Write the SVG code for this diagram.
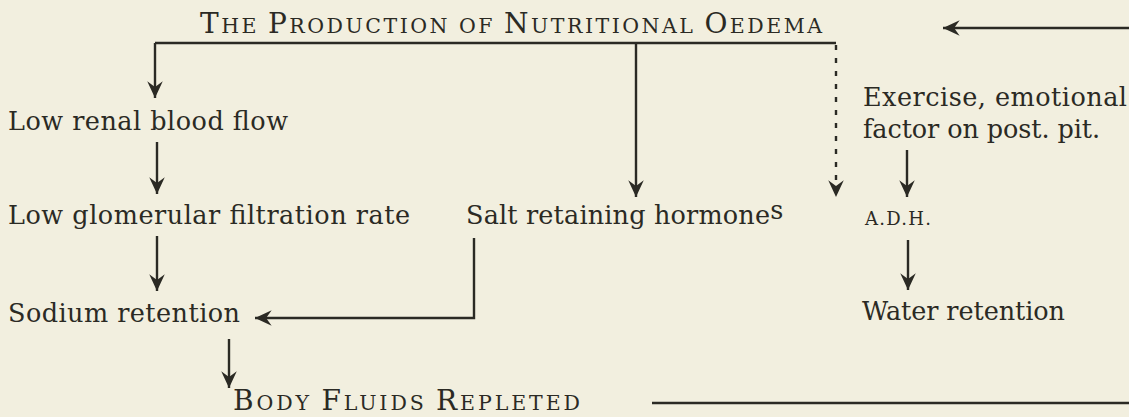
<svg xmlns="http://www.w3.org/2000/svg" width="1129" height="417" viewBox="0 0 1129 417">
<defs>
<style>
.t{font-family:"DejaVu Serif","Liberation Serif",serif;fill:#2b2a24;}
.n{font-size:25.5px;}
.c{stroke:#2b2a24;stroke-width:2.4;fill:none;}
.dash{stroke-dasharray:5 8;}
</style>
<marker id="ah" markerUnits="userSpaceOnUse" markerWidth="20" markerHeight="20" viewBox="-16 -8 18 16" refX="0" refY="0" orient="auto">
<path d="M0,0 L-15,-7 L-10,0 L-15,7 Z" fill="#2b2a24"/>
</marker>
</defs>
<rect width="1129" height="417" fill="#f2efdf"/>
<g id="connectors">
<path class="c" d="M155,43 H836"/>
<path class="c" d="M155,43 V98" marker-end="url(#ah)"/>
<path class="c" d="M636,43 V197" marker-end="url(#ah)"/>
<path class="c dash" d="M836,45 V197" marker-end="url(#ah)"/>
<path class="c" d="M1129,28 H943" marker-end="url(#ah)"/>
<path class="c" d="M157,142 V194" marker-end="url(#ah)"/>
<path class="c" d="M157,236 V291" marker-end="url(#ah)"/>
<path class="c" d="M474,238 V318 H255" marker-end="url(#ah)"/>
<path class="c" d="M907,150 V197" marker-end="url(#ah)"/>
<path class="c" d="M908,240 V290" marker-end="url(#ah)"/>
<path class="c" d="M229,339 V388" marker-end="url(#ah)"/>
<path class="c" d="M652,403 H1129"/>
</g>
<g id="title">
<text class="t" x="200" y="33" textLength="622" lengthAdjust="spacing"><tspan font-size="28">T</tspan><tspan font-size="20.5">HE </tspan><tspan font-size="28">P</tspan><tspan font-size="20.5">RODUCTION OF </tspan><tspan font-size="28">N</tspan><tspan font-size="20.5">UTRITIONAL </tspan><tspan font-size="28">O</tspan><tspan font-size="20.5">EDEMA</tspan></text>
</g>
<g id="low-renal"><text class="t n" x="8" y="130" textLength="280" lengthAdjust="spacing">Low renal blood flow</text></g>
<g id="low-gfr"><text class="t n" x="8" y="224" textLength="402" lengthAdjust="spacing">Low glomerular filtration rate</text></g>
<g id="salt"><text class="t n" x="466" y="224"><tspan textLength="304" lengthAdjust="spacing">Salt retaining hormone</tspan><tspan dy="-5">s</tspan></text></g>
<g id="sodium"><text class="t n" x="8" y="322" textLength="232" lengthAdjust="spacing">Sodium retention</text></g>
<g id="body-fluids"><text class="t" x="233" y="410" textLength="347" lengthAdjust="spacing"><tspan font-size="28">B</tspan><tspan font-size="20.5">ODY </tspan><tspan font-size="28">F</tspan><tspan font-size="20.5">LUIDS </tspan><tspan font-size="28">R</tspan><tspan font-size="20.5">EPLETED</tspan></text></g>
<g id="exercise"><text class="t n" x="863" y="106" textLength="264" lengthAdjust="spacing">Exercise, emotional</text><text class="t n" x="863" y="138" textLength="237" lengthAdjust="spacing">factor on post. pit.</text></g>
<g id="adh"><text class="t" x="865" y="225" font-size="18" textLength="66" lengthAdjust="spacing">A.D.H.</text></g>
<g id="water"><text class="t n" x="862" y="320" textLength="203" lengthAdjust="spacing">Water retention</text></g>
</svg>
